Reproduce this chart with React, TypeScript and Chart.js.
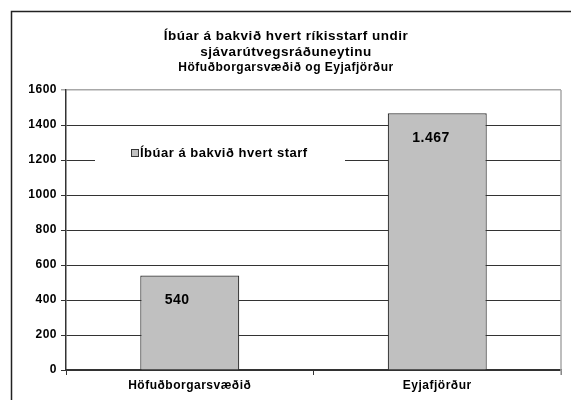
import React, { useEffect, useRef } from "react";
import { Chart, registerables } from "chart.js";

Chart.register(...registerables);

const categories = ["Höfuðborgarsvæðið", "Eyjafjörður"];
const seriesLabel = "Íbúar á bakvið hvert starf";
const seriesValues = [540, 1467];
const valueLabels = ["540", "1.467"];
const yTicks = [0, 200, 400, 600, 800, 1000, 1200, 1400, 1600];
const titleLines = ["Íbúar á bakvið hvert ríkisstarf undir", "sjávarútvegsráðuneytinu"];
const subtitleText = "Höfuðborgarsvæðið og Eyjafjörður";

const FONT = "'Liberation Sans', Arial, sans-serif";

const setSpacing = (chart: any) => {
  try {
    chart.ctx.letterSpacing = "0.5px";
  } catch (e) {}
};

const framePlugin = {
  id: "frame",
  afterInit(chart: any) {
    setSpacing(chart);
  },
  beforeUpdate(chart: any) {
    setSpacing(chart);
  },
  beforeDraw(chart: any) {
    setSpacing(chart);
    const ctx = chart.ctx;
    ctx.save();
    ctx.fillStyle = "#ffffff";
    ctx.fillRect(0, 0, chart.width, chart.height);
    ctx.strokeStyle = "#222";
    ctx.lineWidth = 1.5;
    ctx.strokeRect(11.5, 11.5, 700, 500);
    ctx.restore();
  },
  beforeDatasetsDraw(chart: any) {
    const ctx = chart.ctx;
    const area = chart.chartArea;
    ctx.save();
    ctx.strokeStyle = "#a8a8a8";
    ctx.lineWidth = 1.5;
    ctx.beginPath();
    ctx.moveTo(area.right, area.top);
    ctx.lineTo(area.right, area.bottom + 5);
    ctx.stroke();
    // legend inside the plot
    ctx.fillStyle = "#ffffff";
    ctx.fillRect(95, 142, 250, 26);
    ctx.fillStyle = "#C0C0C0";
    ctx.fillRect(131.5, 149.5, 7, 7);
    ctx.strokeStyle = "#333";
    ctx.lineWidth = 1;
    ctx.strokeRect(131.5, 149.5, 7, 7);
    ctx.fillStyle = "#000";
    ctx.font = `bold 13px ${FONT}`;
    ctx.textBaseline = "middle";
    ctx.textAlign = "left";
    ctx.fillText(chart.data.datasets[0].label, 140, 153.5);
    ctx.restore();
  },
  afterDatasetsDraw(chart: any) {
    const ctx = chart.ctx;
    const meta = chart.getDatasetMeta(0);
    ctx.save();
    ctx.fillStyle = "#000";
    ctx.font = `bold 14px ${FONT}`;
    ctx.textAlign = "left";
    ctx.textBaseline = "middle";
    meta.data.forEach((bar: any, i: number) => {
      ctx.fillText(valueLabels[i], bar.x - 25, bar.y + 25);
    });
    ctx.restore();
  },
};

export default function App() {
  const ref = useRef<HTMLCanvasElement | null>(null);
  useEffect(() => {
    if (!ref.current) return;
    const chart = new Chart(ref.current, {
      type: "bar",
      data: {
        labels: categories,
        datasets: [
          {
            label: seriesLabel,
            data: seriesValues,
            backgroundColor: "#C0C0C0",
            borderColor: "#333333",
            borderWidth: 1.2,
            barPercentage: 0.4,
            categoryPercentage: 1,
          },
        ],
      },
      options: {
        responsive: false,
        animation: false,
        layout: { padding: { top: 12, left: 11, right: 10, bottom: 0 } },
        plugins: {
          legend: { display: false },
          tooltip: { enabled: false },
          title: {
            display: true,
            text: titleLines,
            color: "#000",
            font: { family: FONT, size: 13.5, weight: "bold", lineHeight: "16.5px" },
            padding: { top: 15.75, bottom: 0 },
          },
          subtitle: {
            display: true,
            text: subtitleText,
            color: "#000",
            font: { family: FONT, size: 12, weight: "bold", lineHeight: "13.2px" },
            padding: { top: 0.65, bottom: 15.4 },
          },
        },
        scales: {
          x: {
            afterFit(scale: any) {
              scale.height = 30;
            },
            grid: {
              display: true,
              drawOnChartArea: false,
              drawTicks: true,
              tickLength: 5,
              color: "#333",
              offset: true,
            },
            border: { display: true, color: "#333", width: 1.5 },
            ticks: {
              color: "#000",
              padding: 3,
              font: { family: FONT, size: 12, weight: "bold" },
            },
          },
          y: {
            min: yTicks[0],
            max: yTicks[yTicks.length - 1],
            afterFit(scale: any) {
              scale.width = 55;
            },
            afterBuildTicks(scale: any) {
              scale.ticks = yTicks.map((v) => ({ value: v }));
            },
            ticks: {
              color: "#000",
              padding: 4,
              font: { family: FONT, size: 12, weight: "bold" },
              callback: (v: any) => String(v),
            },
            grid: {
              color: (c: any) => (c.tick && c.tick.value === 1600 ? "#a8a8a8" : "#333"),
              lineWidth: (c: any) => (c.tick && c.tick.value === 1600 ? 1.5 : 1),
              tickLength: 5,
              drawTicks: true,
            },
            border: { display: true, color: "#333", width: 1.5 },
          },
        },
      },
      plugins: [framePlugin],
    });
    return () => chart.destroy();
  }, []);
  return (
    <div style={{ position: "absolute", left: 0, top: 0, width: 571, height: 400, background: "#fff" }}>
      <canvas ref={ref} width={571} height={400} />
    </div>
  );
}
